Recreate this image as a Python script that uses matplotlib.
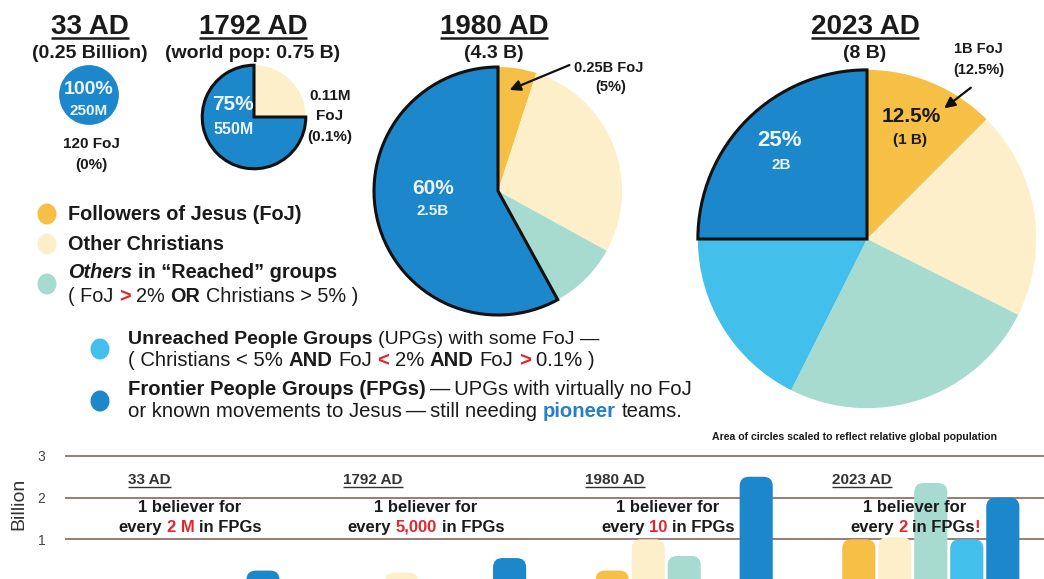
import matplotlib
matplotlib.use('Agg')
import matplotlib.pyplot as plt
from matplotlib.patches import FancyBboxPatch, Ellipse
import numpy as np

W, H, DPI = 1044, 579, 100
plt.rcParams['font.family'] = ['Liberation Sans', 'DejaVu Sans']

# ---------------- data ----------------
eras = ['33 AD', '1792 AD', '1980 AD', '2023 AD']
era_pop_labels = ['(0.25 Billion)', '(world pop: 0.75 B)', '(4.3 B)', '(8 B)']
world_pop = [0.25, 0.75, 4.3, 8.0]          # billions (circle area)
categories = ['Followers of Jesus (FoJ)', 'Other Christians',
              'Others in "Reached" groups', 'UPGs with some FoJ',
              'Frontier People Groups (FPGs)']
colors = ['#f6bf45', '#fcefc9', '#a7dbcf', '#43bfec', '#1d87cc']

# pie shares (% of world population), order = categories
pie_33 = [0.0, 0.0, 0.0, 0.0, 100.0]
pie_1792 = [0.1, 24.9, 0.0, 0.0, 75.0]
pie_1980 = [5.0, 28.0, 9.0, 0.0, 58.0]
pie_2023 = [12.5, 19.9, 25.0, 17.6, 25.0]

# bar values (billions), order = categories
bar_33 = [0.0, 0.0, 0.0, 0.0, 0.25]
bar_1792 = [0.0, 0.2, 0.0, 0.0, 0.55]
bar_1980 = [0.25, 1.0, 0.6, 0.0, 2.5]
bar_2023 = [1.0, 1.05, 2.35, 1.0, 2.0]

pie_big_labels = ['100%', '75%', '60%', '25%']
pie_small_labels = ['250M', '550M', '2.5B', '2B']
ratio_numbers = ['2 M', '5,000', '10', '2']
yticks = [1, 2, 3]

# ---------------- layout ----------------
fig = plt.figure(figsize=(W / DPI, H / DPI), dpi=DPI)
fig.patch.set_facecolor('white')
TXT = '#1a1a1a'
RED = '#e2262b'

k_r = 124 / np.sqrt(4.3)                    # px per sqrt(billion)
pie_centers = [(89, 95), (254, 117), (498, 191), (867, 239)]
pie_data = [pie_33, pie_1792, pie_1980, pie_2023]

for i, ((cx, cy), pop, shares) in enumerate(zip(pie_centers, world_pop, pie_data)):
    r = k_r * np.sqrt(pop)
    pad = 1.08
    pax = fig.add_axes([(cx - r * pad) / W, (H - cy - r * pad) / H,
                        2 * r * pad / W, 2 * r * pad / H])
    wedges, _ = pax.pie(shares, colors=colors, startangle=90, counterclock=False,
                        radius=1, wedgeprops=dict(linewidth=0))
    pax.set_xlim(-pad, pad)
    pax.set_ylim(-pad, pad)
    pax.axis('off')
    if i > 0:
        wedges[-1].set_edgecolor('#111111')
        wedges[-1].set_linewidth(2.2)
        wedges[-1].set_zorder(5)

# ---------------- bottom bar chart ----------------
px_per_x, px_per_y = 36.0, 41.7
base_px = 581.0
x_left_px = 65
slot0_px = 119
bx = fig.add_axes([x_left_px / W, (H - base_px) / H, (W - x_left_px) / W,
                   3.25 * px_per_y / H], zorder=2)
bx.set_xlim((x_left_px - slot0_px) / px_per_x, (W - slot0_px) / px_per_x)
bx.set_ylim(0, 3.25)
bx.patch.set_alpha(0)
for s in bx.spines.values():
    s.set_visible(False)
bx.set_xticks([])
bx.set_yticks(yticks)
bx.set_yticklabels([str(t) for t in yticks])
bx.tick_params(axis='y', length=0, pad=14, labelsize=10, labelcolor='#444444')
for t in yticks:
    bx.axhline(t, color='#8f7268', lw=1.3, zorder=1)

group_x0 = [0.0, 6.85, 13.7, 20.55]
slots = np.arange(5)
bar_data = [bar_33, bar_1792, bar_1980, bar_2023]
rs = 0.26
for gx, vals in zip(group_x0, bar_data):
    cont = bx.bar(gx + slots, vals, width=0.92, color=colors, zorder=2)
    for rect, c in zip(cont.patches, colors):
        rect.set_visible(False)
        h = rect.get_height()
        if h <= 0:
            continue
        fb = FancyBboxPatch((rect.get_x(), -0.5), rect.get_width(), h + 0.5,
                            boxstyle='round,pad=0,rounding_size=%f' % rs,
                            mutation_aspect=px_per_x / px_per_y,
                            fc=c, ec='none', zorder=2)
        bx.add_patch(fb)

# ---------------- overlay text layer ----------------
ax0 = fig.add_axes([0, 0, 1, 1], zorder=10)
ax0.set_xlim(0, W)
ax0.set_ylim(H, 0)
ax0.axis('off')
renderer = fig.canvas.get_renderer()


def tw(s, **kw):
    t = ax0.text(0, 0, s, **kw)
    w = t.get_window_extent(renderer).width
    t.remove()
    return w


def rich(x, y, pieces, ha='left', base=None):
    base = base or {}
    items = []
    for s, kw in pieces:
        k = dict(base)
        k.update(kw)
        core = s.strip(' ')
        lead = len(s) - len(s.lstrip(' '))
        trail = len(s) - len(s.rstrip(' '))
        sw = tw('x x', **k) - tw('xx', **k)
        w = tw(core, **k) if core else 0.0
        items.append((core, k, lead * sw, w, trail * sw))
    total = sum(a + b + c for _, _, a, b, c in items)
    cur = x - (total / 2 if ha == 'center' else 0)
    out = []
    for core, k, a, b, c in items:
        cur += a
        if core:
            out.append(ax0.text(cur, y, core, ha='left', va='baseline', **k))
        cur += b + c
    return out


def underlined(x, y, s, size, dy=3.5, lw=1.6, ha='center', color=TXT, weight='bold'):
    t = ax0.text(x, y, s, ha=ha, va='baseline', fontsize=size, fontweight=weight, color=color)
    bb = t.get_window_extent(renderer)
    ax0.plot([bb.x0, bb.x1], [y + dy, y + dy], color=color, lw=lw, solid_capstyle='butt')
    return t


# pie titles
title_x = [90, 253, 494, 865]
for x, era, pl in zip(title_x, eras, era_pop_labels):
    underlined(x, 34, era, 20, dy=4, lw=1.8)
    ax0.text(x, 58, pl, ha='center', va='baseline', fontsize=14, fontweight='bold', color=TXT)

# labels inside pies
wt = dict(color='white', fontweight='bold', alpha=0.92, ha='center', va='center')
ax0.text(89, 89, pie_big_labels[0], fontsize=14, **wt)
ax0.text(89, 111, pie_small_labels[0], fontsize=11, **wt)
ax0.text(233, 105, pie_big_labels[1], fontsize=15, **wt)
ax0.text(234, 130, pie_small_labels[1], fontsize=11.5, **wt)
ax0.text(433, 189, pie_big_labels[2], fontsize=15, **wt)
ax0.text(433, 211, pie_small_labels[2], fontsize=11, **wt)
ax0.text(780, 141, pie_big_labels[3], fontsize=16, **wt)
ax0.text(781, 165, pie_small_labels[3], fontsize=11, **wt)

bt = dict(color=TXT, fontweight='bold', ha='center', va='center')
ax0.text(91, 144, '120 FoJ', fontsize=11, **bt)
ax0.text(91, 165, '(0%)', fontsize=11, **bt)
ax0.text(330, 96, '0.11M', fontsize=11, **bt)
ax0.text(330, 116, 'FoJ', fontsize=11, **bt)
ax0.text(330, 137, '(0.1%)', fontsize=11, **bt)
ax0.text(609, 68, '0.25B FoJ', fontsize=10.5, **bt)
ax0.text(611, 87, '(5%)', fontsize=10.5, **bt)
ax0.annotate('', xy=(507, 91), xytext=(572, 64),
             arrowprops=dict(arrowstyle='-|>', color='#111111', lw=1.6, mutation_scale=16))
ax0.text(978, 49, '1B FoJ', fontsize=10.5, **bt)
ax0.text(979, 70, '(12.5%)', fontsize=10.5, **bt)
ax0.annotate('', xy=(942, 110), xytext=(973, 86),
             arrowprops=dict(arrowstyle='-|>', color='#111111', lw=1.6, mutation_scale=16))
ax0.text(911, 116, '12.5%', fontsize=15, **bt)
ax0.text(910, 140, '(1 B)', fontsize=11, **bt)

# legend
dots = [(47, 214), (47, 244), (47, 284), (100, 349), (100, 401)]
for (dx, dy), c in zip(dots, colors):
    ax0.add_patch(Ellipse((dx, dy), 19, 21, fc=c, ec='none'))
B = dict(fontweight='bold')
R = dict(fontweight='normal')
RB = dict(fontweight='bold', color=RED)
base = dict(fontsize=14.3, color=TXT)
rich(68, 220, [('Followers of Jesus (FoJ)', B)], base=base)
rich(68, 250, [('Other Christians', B)], base=base)
rich(68, 278, [('Others', dict(fontweight='bold', fontstyle='italic')),
               (' in \u201cReached\u201d groups', B)], base=base)
rich(68, 302, [('( FoJ ', R), ('>', RB), (' 2% ', R), ('OR', B),
               (' Christians > 5% )', R)], base=base)
base1 = dict(fontsize=14, color=TXT)
base2 = dict(fontsize=14.6, color=TXT)
rich(128, 344, [('Unreached People Groups', B), (' (UPGs) with some FoJ \u2014', R)], base=base1)
rich(128, 366, [('( Christians < 5% ', R), ('AND', B), (' FoJ ', R), ('<', RB),
                (' 2% ', R), ('AND', B), (' FoJ ', R), ('>', RB), (' 0.1% )', R)], base=base2)
rich(128, 395, [('Frontier People Groups (FPGs)', B),
                ('\u2009\u2014\u2009UPGs with virtually no FoJ', R)], base=base2)
rich(128, 417, [('or known movements to Jesus\u2009\u2014\u2009still needing ', R),
                ('pioneer', dict(fontweight='bold', color='#2a7fc4')), (' teams.', R)], base=base2)

ax0.text(855, 437, 'Area of circles scaled to reflect relative global population',
         ha='center', va='center', fontsize=7.6, fontweight='bold', color=TXT)

# bottom chart texts
ax0.text(19, 504, 'Billion', rotation=90, ha='center', va='center', fontsize=14, color='#333333')
era_label_x = [128, 343, 585, 832]
for x, era in zip(era_label_x, eras):
    underlined(x, 484, era, 11, dy=2.5, lw=1.0, ha='left', color='#333333')
note_cx = [190, 426, 668, 915]
b3 = dict(fontsize=12, color=TXT, fontweight='bold')
for i, (cx, num) in enumerate(zip(note_cx, ratio_numbers)):
    rich(cx, 512, [('1 believer for', {})], ha='center', base=b3)
    pieces = [('every ', {}), (num, dict(color=RED)), (' in FPGs', {})]
    if i == 3:
        pieces.append(('!', dict(color=RED)))
    rich(cx, 532, pieces, ha='center', base=b3)

fig.savefig('out.png', dpi=DPI, facecolor='white')
